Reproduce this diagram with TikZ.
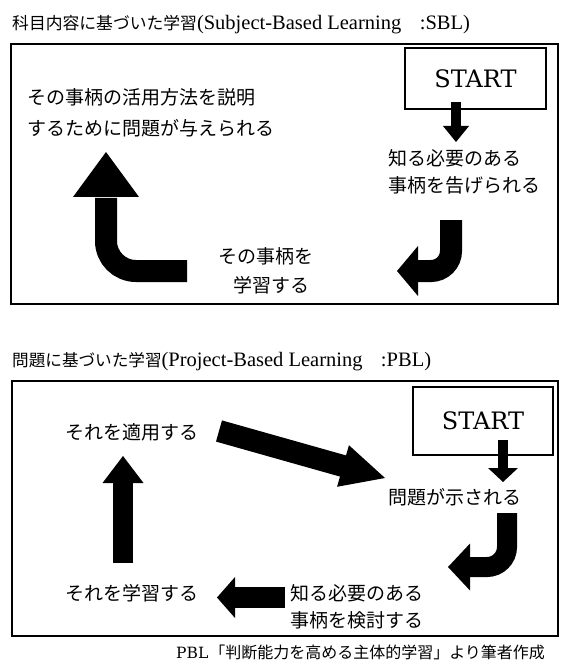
\documentclass[tikz,border=0pt]{standalone}
\usepackage{fontspec}
\usetikzlibrary{calc}
\newfontfamily\jp{Noto Sans CJK JP}
\newfontfamily\tnr{Liberation Serif}
\newfontfamily\cent{DejaVu Serif}
\tikzset{
  frame/.style={draw, line width=2.6pt},
  startbox/.style={draw, line width=1.1pt, inner sep=0pt, font=\cent\fontsize{24}{24}\selectfont},
  lbl/.style={inner sep=0pt, anchor=west, align=left, font=\jp\fontsize{19}{27}\selectfont},
  ttl/.style={inner sep=0pt, anchor=west},
  shaft/.style={line width=#1, line cap=butt},
  ahead/.style={fill=black},
}
\begin{document}
\begin{tikzpicture}[x=1pt,y=-1pt]
\useasboundingbox (0,0) rectangle (560,668);
% ---------- titles ----------
\node[ttl] (t1) at (12,24.5) {{\jp\fontsize{16.8}{20}\selectfont 科目内容に基づいた学習}{\tnr\fontsize{20.5}{24}\selectfont (Subject-Based Learning\hspace{0.9em}:SBL)}};
\node[ttl] (t2) at (12,361.5) {{\jp\fontsize{16.6}{20}\selectfont 問題に基づいた学習}{\tnr\fontsize{20.5}{24}\selectfont (Project-Based Learning\hspace{0.9em}:PBL)}};
% ---------- frames ----------
\draw[frame] (11,44) rectangle (558,304);
\draw[frame] (12,381) rectangle (558,636);
% ---------- SBL ----------
\node[startbox, minimum width=141pt, minimum height=61pt] (s1) at (475.5,78.5) {START\hspace{18pt}};
\coordinate (d1a) at (456,102); \coordinate (d1b) at (456,126);
\draw[shaft=10pt] (d1a) -- (d1b);
\fill[ahead] ($(d1b)+(-13,0)$) -- ($(d1b)+(13,0)$) -- ($(d1b)+(0,16)$) -- cycle;

\node[lbl] (a1) at (388,171.5) {知る必要のある\\事柄を告げられる};

\coordinate (c1a) at (451,220); \coordinate (c1b) at (418,271);
\draw[shaft=22pt, rounded corners=20pt] (c1a) |- ($(c1b)+(-1,0)$);
\fill[ahead] ($(c1b)+(0,-25)$) -- ($(c1b)+(0,25)$) -- ($(c1b)+(-21,0)$) -- cycle;

\node[lbl] (a2) at (218,270.5) {その事柄を\\[2pt]\hspace*{15pt}学習する};

\coordinate (c2a) at (187,271); \coordinate (c2b) at (106,197);
\draw[shaft=22pt, rounded corners=30pt] (c2a) -| ($(c2b)+(0,1)$);
\fill[ahead] ($(c2b)+(-33,0)$) -- ($(c2b)+(33,0)$) -- ($(c2b)+(0,-45)$) -- cycle;

\node[lbl] (a3) at (27,112.5) {その事柄の活用方法を説明\\[4pt]するために問題が与えられる};
% ---------- PBL ----------
\node[startbox, minimum width=140pt, minimum height=68pt] (s2) at (483,421) {START\hspace{20pt}};
\coordinate (d2a) at (503,440); \coordinate (d2b) at (503,468);
\draw[shaft=10pt] (d2a) -- (d2b);
\fill[ahead] ($(d2b)+(-15,0)$) -- ($(d2b)+(15,0)$) -- ($(d2b)+(0,14)$) -- cycle;

\node[lbl] (b1) at (388,497) {問題が示される};

\coordinate (c3a) at (507,513); \coordinate (c3b) at (470,567);
\draw[shaft=20pt, rounded corners=20pt] (c3a) |- ($(c3b)+(-1,0)$);
\fill[ahead] ($(c3b)+(0,-23.5)$) -- ($(c3b)+(0,23.5)$) -- ($(c3b)+(-22,0)$) -- cycle;

\node[lbl] (b2) at (290,606.5) {知る必要のある\\事柄を検討する};

\coordinate (l1a) at (285,597.5); \coordinate (l1b) at (235,597.5);
\draw[shaft=21pt] (l1a) -- ($(l1b)+(-1,0)$);
\fill[ahead] ($(l1b)+(0,-20.5)$) -- ($(l1b)+(0,20.5)$) -- ($(l1b)+(-18,0)$) -- cycle;

\node[lbl] (b3) at (65,593) {それを学習する};

\coordinate (u1a) at (123,563); \coordinate (u1b) at (123,483);
\draw[shaft=20pt] (u1a) -- ($(u1b)+(0,-1)$);
\fill[ahead] ($(u1b)+(-20.5,0)$) -- ($(u1b)+(20.5,0)$) -- ($(u1b)+(0,-27)$) -- cycle;

\node[lbl] (b4) at (65,432) {それを適用する};

\coordinate (g1a) at (219,431); \coordinate (g1b) at (343,466); \coordinate (g1t) at (385,478);
\draw[shaft=22pt] (g1a) -- ($(g1a)!1.01!(g1b)$);
\fill[ahead] ($(g1b)!21.6pt!90:(g1t)$) -- (g1t) -- ($(g1b)!21.6pt!-90:(g1t)$) -- cycle;
% ---------- footer ----------
\node[ttl] (f) at (176,652) {{\cent\fontsize{15.5}{20}\selectfont PBL}\hspace{1pt}{\jp\fontsize{16}{20}\selectfont 「判断能力を高める主体的学習」より筆者作成}};
\end{tikzpicture}
\end{document}
